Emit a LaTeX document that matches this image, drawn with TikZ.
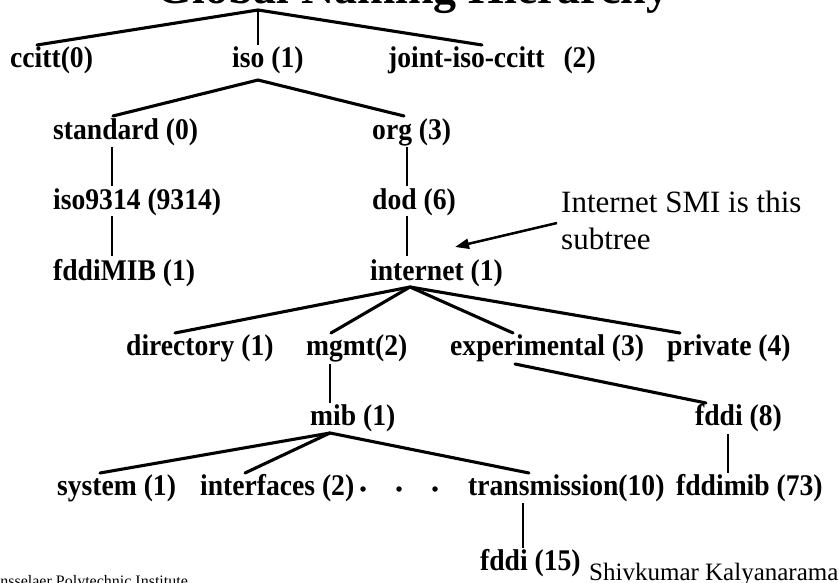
\documentclass[tikz,border=0pt]{standalone}
\usepackage{fontspec}
\setmainfont{Liberation Serif}
\newfontfamily\lblfont[FakeStretch=0.92]{Liberation Serif}
\usetikzlibrary{arrows.meta}

\begin{document}
\begin{tikzpicture}[x=1pt,y=-1pt,
  lbl/.style={anchor=base west, inner sep=0pt,
    font=\lblfont\fontsize{30}{33}\selectfont\bfseries},
  note/.style={anchor=base west, inner sep=0pt,
    font=\fontsize{31}{37}\selectfont},
  edge/.style={line width=3.1pt, line cap=round},
  stem/.style={line width=2.7pt},
  bullet/.style={circle, fill=black, inner sep=0pt, minimum size=5.5pt}]
\useasboundingbox (0,0) rectangle (839,583);

% heading, mostly above the page
\node[anchor=base, inner sep=0pt, font=\fontsize{46}{50}\selectfont\bfseries]
  (title) at (413,4) {Global Naming Hierarchy};
\coordinate (root) at (258,10);

% level 1
\node[lbl] (ccitt) at (10,68) {ccitt(0)};
\node[lbl] (iso) at (232,68) {iso (1)};
\node[lbl] (joint) at (388,68) {joint-iso-ccitt\hspace{19pt}(2)};

% level 2 and below
\node[lbl] (standard) at (53,140) {standard (0)};
\node[lbl] (org) at (372,140) {org (3)};
\node[lbl] (iso9314) at (53,210) {iso9314 (9314)};
\node[lbl] (dod) at (372,210) {dod (6)};
\node[lbl] (fddiMIB) at (53,280) {fddiMIB (1)};
\node[lbl] (internet) at (370,280) {internet (1)};

\node[lbl] (directory) at (126,355) {directory (1)};
\node[lbl] (mgmt) at (306,355) {mgmt(2)};
\node[lbl] (experimental) at (450,355) {experimental (3)};
\node[lbl] (private) at (667,355) {private (4)};

\node[lbl] (mib) at (310,425) {mib (1)};
\node[lbl] (fddiA) at (695,425) {fddi (8)};

\node[lbl] (system) at (57,495) {system (1)};
\node[lbl] (interfaces) at (200,495) {interfaces (2)};
\node[bullet] (dotA) at (363,489) {};
\node[bullet] (dotB) at (399,489) {};
\node[bullet] (dotC) at (435,489) {};
\node[lbl] (transmission) at (468,495) {transmission(10)};
\node[lbl] (fddimib) at (676,495) {fddimib (73)};

\node[lbl] (fddiB) at (480,570) {fddi (15)};

% callout
\node[note] (smiA) at (561,213) {Internet SMI is this};
\node[note] (smiB) at (561,250) {subtree};
\coordinate (smitip) at (455,247);
\draw[line width=2.5pt, -{Triangle[length=14pt,width=10pt]}]
  ([xshift=-4pt,yshift=-10pt]smiA.base west) -- (smitip);

% footer
\node[anchor=base west, inner sep=0pt, font=\fontsize{16}{18}\selectfont]
  (school) at (-17.6,586) {Rensselaer Polytechnic Institute};
\node[anchor=base west, inner sep=0pt, font=\fontsize{25}{28}\selectfont]
  (author) at (589,580) {Shivkumar Kalyanaraman};

% branches
\draw[edge] (root) -- ([xshift=27pt,yshift=23pt]ccitt.base west);
\draw[stem] (root) -- ([xshift=26pt,yshift=23pt]iso.base west);
\draw[edge] (root) -- ([xshift=94pt,yshift=23pt]joint.base west);

\draw[edge] ([xshift=26pt,yshift=-12pt]iso.base west) -- ([xshift=60pt,yshift=24pt]standard.base west);
\draw[edge] ([xshift=26pt,yshift=-12pt]iso.base west) -- ([xshift=32pt,yshift=24pt]org.base west);

\draw[stem] ([xshift=59pt,yshift=-7pt]standard.base west) -- ([xshift=59pt,yshift=24pt]iso9314.base west);
\draw[stem] ([xshift=59pt,yshift=-6pt]iso9314.base west) -- ([xshift=59pt,yshift=24pt]fddiMIB.base west);
\draw[stem] ([xshift=35pt,yshift=-7pt]org.base west) -- ([xshift=35pt,yshift=24pt]dod.base west);
\draw[stem] ([xshift=35pt,yshift=-6pt]dod.base west) -- ([xshift=37pt,yshift=24pt]internet.base west);

\draw[edge] ([xshift=40pt,yshift=-7pt]internet.base west) -- ([xshift=49pt,yshift=22pt]directory.base west);
\draw[edge] ([xshift=40pt,yshift=-7pt]internet.base west) -- ([xshift=25pt,yshift=22pt]mgmt.base west);
\draw[edge] ([xshift=40pt,yshift=-7pt]internet.base west) -- ([xshift=63pt,yshift=22pt]experimental.base west);
\draw[edge] ([xshift=40pt,yshift=-7pt]internet.base west) -- ([xshift=13pt,yshift=22pt]private.base west);

\draw[stem] ([xshift=24pt,yshift=-9pt]mgmt.base west) -- ([xshift=20pt,yshift=22pt]mib.base west);
\draw[edge] ([xshift=65pt,yshift=-9pt]experimental.base west) -- ([xshift=11pt,yshift=22pt]fddiA.base west);

\draw[edge] ([xshift=20pt,yshift=-8pt]mib.base west) -- ([xshift=43pt,yshift=22pt]system.base west);
\draw[edge] ([xshift=20pt,yshift=-8pt]mib.base west) -- ([xshift=45pt,yshift=22pt]interfaces.base west);
\draw[edge] ([xshift=20pt,yshift=-8pt]mib.base west) -- ([xshift=61pt,yshift=22pt]transmission.base west);

\draw[stem] ([xshift=33pt,yshift=-9pt]fddiA.base west) -- ([xshift=52pt,yshift=22pt]fddimib.base west);
\draw[stem] ([xshift=55pt,yshift=-8pt]transmission.base west) -- ([xshift=43pt,yshift=22pt]fddiB.base west);
\end{tikzpicture}
\end{document}
